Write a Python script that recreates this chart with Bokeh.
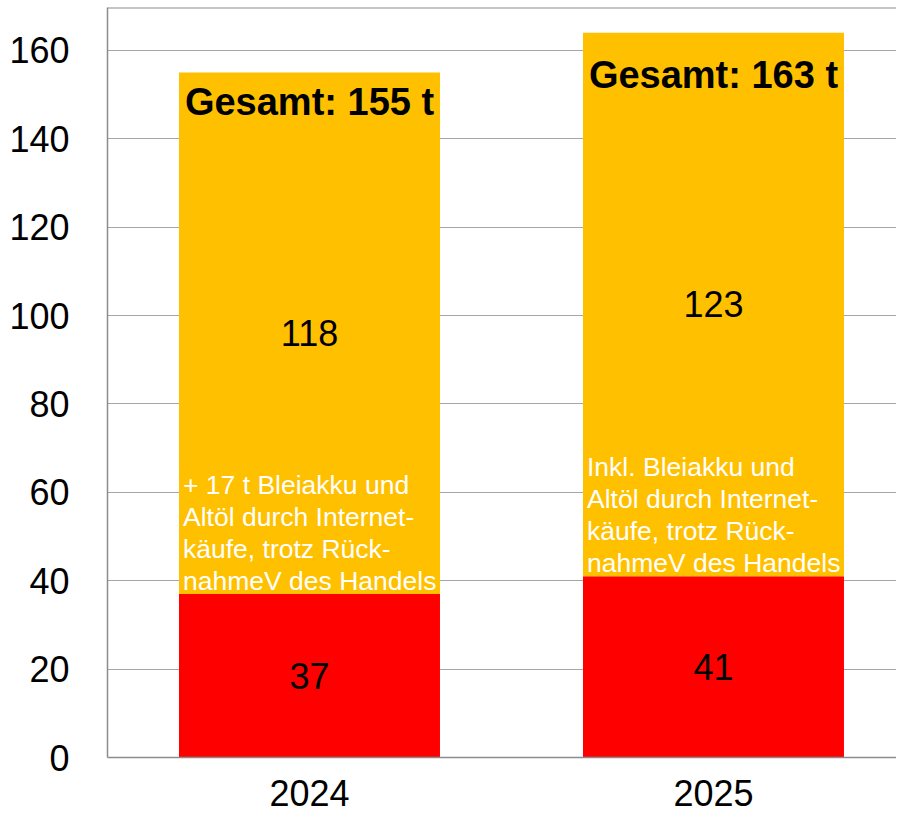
from bokeh.plotting import figure
from bokeh.models import ColumnDataSource, Range1d, FixedTicker, Span
from bokeh.core.properties import value
from bokeh.embed import file_html
from bokeh.resources import INLINE

# ---- data ----
categories = ["2024", "2025"]
base_values = [37, 41]          # red segment
top_values = [118, 123]         # orange segment
total_labels = ["Gesamt: 155 t", "Gesamt: 163 t"]
notes = [
    "+ 17 t Bleiakku und\nAltöl durch Internet-\nkäufe, trotz Rück-\nnahmeV des Handels",
    "Inkl. Bleiakku und\nAltöl durch Internet-\nkäufe, trotz Rück-\nnahmeV des Handels",
]
y_ticks = [0, 20, 40, 60, 80, 100, 120, 140, 160]

# ---- derived ----
xpos = [i + 0.5 for i in range(len(categories))]
bar_w = 0.646
totals = [b + t for b, t in zip(base_values, top_values)]
src = ColumnDataSource(dict(
    x=xpos,
    base=base_values,
    top=top_values,
    total=totals,
    zero=[0] * len(xpos),
    base_mid=[b / 2 for b in base_values],
    top_mid=[b + t / 2 for b, t in zip(base_values, top_values)],
    base_lbl=[str(v) for v in base_values],
    top_lbl=[str(v) for v in top_values],
    total_lbl=total_labels,
    note=notes,
    note_x=[x - bar_w / 2 for x in xpos],
    gesamt_off=[30, 42],
))

FONT = "Liberation Sans"
GRID = "#a6a6a6"
Y_END = 169.7

p = figure(width=896, height=815, output_backend="svg", toolbar_location=None,
           x_range=Range1d(0, 1.953), y_range=Range1d(0, Y_END),
           min_border_left=107, min_border_right=0, min_border_top=7,
           min_border_bottom=58)
p.outline_line_color = None
p.background_fill_color = "white"
p.border_fill_color = "white"

p.vbar(x="x", width=bar_w, bottom="zero", top="base", source=src,
       fill_color="#FF0000", line_color=None)
p.vbar(x="x", width=bar_w, bottom="base", top="total", source=src,
       fill_color="#FFC000", line_color=None)

# value labels
p.text(x="x", y="base_mid", text="base_lbl", source=src, text_align="center",
       text_baseline="middle", text_font=value(FONT), text_font_size="36px",
       text_color="black")
p.text(x="x", y="top_mid", text="top_lbl", source=src, text_align="center",
       text_baseline="middle", text_font=value(FONT), text_font_size="36px",
       text_color="black")
p.text(x="x", y="total", text="total_lbl", source=src, text_align="center",
       text_baseline="middle", y_offset="gesamt_off", text_font=value(FONT),
       text_font_size="38px", text_font_style="bold", text_color="black")
p.text(x="note_x", y="base", text="note", source=src, text_align="left",
       text_baseline="bottom", x_offset=4, y_offset=2, text_font=value(FONT),
       text_font_size="26.5px", text_color="white", text_line_height=1.07)

# top border line
p.add_layout(Span(location=Y_END, dimension="width", line_color="#8c8c8c", line_width=2))

# axes
p.xgrid.grid_line_color = None
p.ygrid.grid_line_color = GRID
p.ygrid.grid_line_width = 1
p.ygrid.ticker = FixedTicker(ticks=y_ticks)

p.yaxis.ticker = FixedTicker(ticks=y_ticks)
p.yaxis.axis_line_color = "#8c8c8c"
p.yaxis.axis_line_width = 1.5
p.yaxis.major_tick_line_color = None
p.yaxis.minor_tick_line_color = None
p.yaxis.major_label_standoff = 32
p.yaxis.major_label_text_font = FONT
p.yaxis.major_label_text_font_size = "36px"
p.yaxis.major_label_text_color = "black"

p.xaxis.ticker = FixedTicker(ticks=xpos)
p.xaxis.major_label_overrides = {x: c for x, c in zip(xpos, categories)}
p.xaxis.axis_line_color = "#8c8c8c"
p.xaxis.axis_line_width = 1.5
p.xaxis.major_tick_line_color = None
p.xaxis.minor_tick_line_color = None
p.xaxis.major_label_standoff = 16
p.xaxis.major_label_text_font = FONT
p.xaxis.major_label_text_font_size = "36px"
p.xaxis.major_label_text_color = "black"

open("out.html", "w").write(file_html(p, INLINE))
